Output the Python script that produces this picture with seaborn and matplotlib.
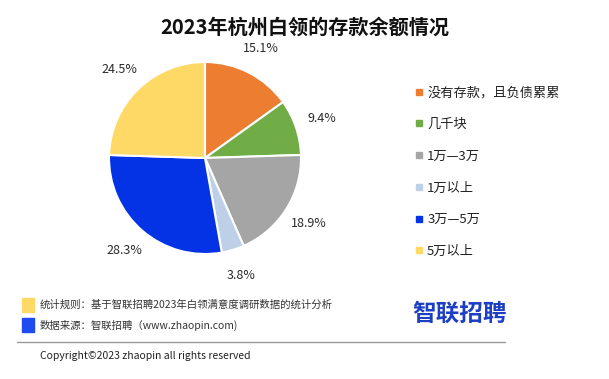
import matplotlib
matplotlib.use("Agg")
import matplotlib.pyplot as plt
import seaborn as sns
from matplotlib.patches import Rectangle
from matplotlib.lines import Line2D

sns.set_theme(style="white")
plt.rcParams['font.family'] = ['Noto Sans CJK SC', 'DejaVu Sans']

# data
categories = ['没有存款，且负债累累', '几千块', '1万—3万', '1万以上', '3万—5万', '5万以上']
shares = [15.1, 9.4, 18.9, 3.8, 28.3, 24.5]
colors = ['#ED7D31', '#70AD47', '#A5A5A5', '#BDD0E8', '#0433E6', '#FFD966']
title = '2023年杭州白领的存款余额情况'
notes = ['统计规则：基于智联招聘2023年白领满意度调研数据的统计分析',
         '数据来源：智联招聘（www.zhaopin.com)']
note_colors = ['#FFD966', '#1F4AF0']

W, H = 609, 379
fig = plt.figure(figsize=(W / 100, H / 100), dpi=100)

# pie: centre ~(205,158) px, radius ~96 px
cx, cy, half = 205, 158, 120
ax = fig.add_axes([(cx - half) / W, (H - cy - half) / H, 2 * half / W, 2 * half / H])
wedges, _, autotexts = ax.pie(shares, colors=colors, startangle=90, counterclock=False,
                              autopct='%.1f%%', pctdistance=1.28,
                              wedgeprops=dict(edgecolor='white', linewidth=1.5),
                              textprops=dict(fontsize=9, color='#2a2a2a'))
ax.set_xlim(-1.25, 1.25)
ax.set_ylim(-1.25, 1.25)
ax.set_aspect('equal')
ax.axis('off')
for t in autotexts:
    t.set_clip_on(False)

# legend
handles = [Line2D([0], [0], marker='s', linestyle='', markersize=5,
                  markerfacecolor=c, markeredgecolor=c) for c in colors]
fig.legend(handles, categories, loc='upper left', bbox_to_anchor=(410 / W, 1 - 81 / H),
           frameon=False, fontsize=9.5, labelspacing=1.42, handlelength=0.6,
           handletextpad=0.3, borderaxespad=0, labelcolor='#222222')

fig.text(0.5, 1 - 27 / H, title, ha='center', va='center', fontsize=14.5,
         fontweight='bold', color='#111111')

# footer
for i, (txt, c) in enumerate(zip(notes, note_colors)):
    y = 305 + i * 20
    fig.patches.append(Rectangle((22 / W, 1 - (y + 7) / H), 12 / W, 14 / H,
                                 transform=fig.transFigure, color=c))
    fig.text(40 / W, 1 - y / H, txt, ha='left', va='center', fontsize=7.5, color='#333333')

fig.text(460 / W, 1 - 314 / H, '智联招聘', ha='center', va='center', fontsize=17,
         fontweight='bold', color='#1D3FC4')
fig.lines.append(Line2D([17 / W, 505 / W], [1 - 342 / H, 1 - 342 / H],
                        transform=fig.transFigure, color='#999999', linewidth=1))
fig.text(40 / W, 1 - 356 / H, 'Copyright©2023 zhaopin all rights reserved',
         ha='left', va='center', fontsize=7.5, color='#222222')

fig.savefig('out.png', dpi=100, facecolor='white')
